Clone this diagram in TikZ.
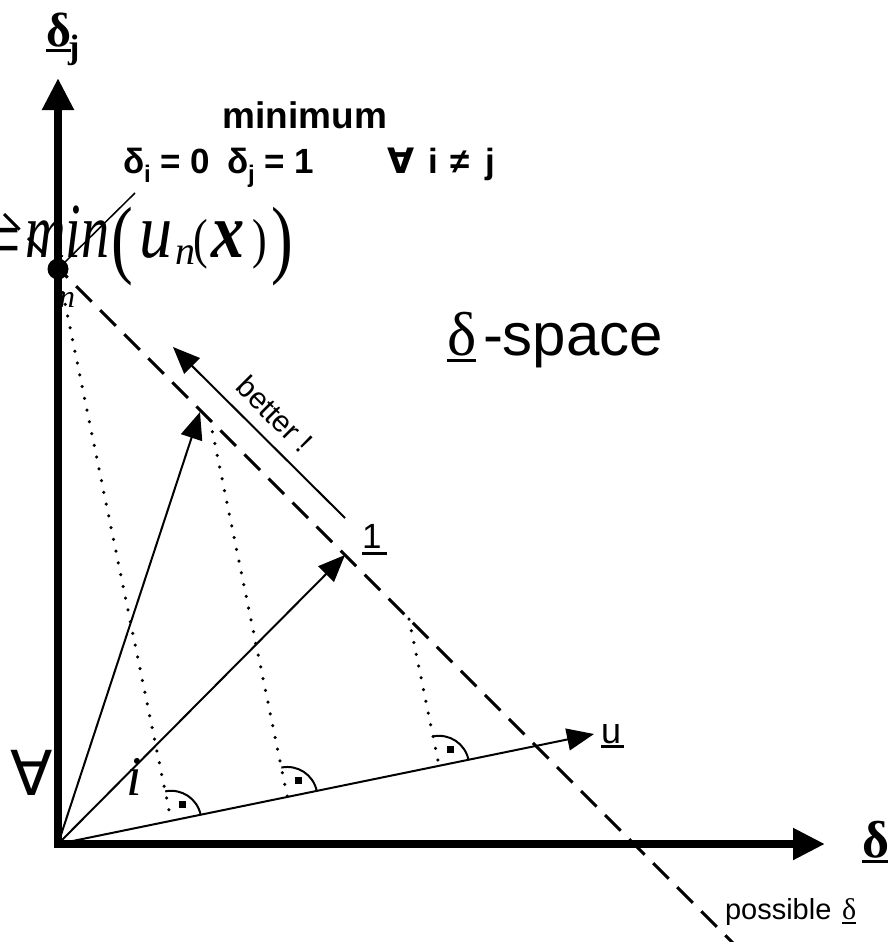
\documentclass[tikz,border=0pt]{standalone}
\usepackage{fontspec}
\setmainfont{Liberation Sans}
\newfontfamily\tnr{Liberation Serif}
\newfontfamily\dvs{DejaVu Sans}
\usetikzlibrary{arrows.meta,calc}
\newcommand\myRA[1]{%
  \draw[ra] ($(#1)+(29.4,-6)$) arc[start angle=11.6,end angle=101.6,radius=30pt];
  \fill ($(#1)+(7.5,-19.5)$) rectangle ++(7,7);}
\begin{document}
\begin{tikzpicture}[x=1pt,y=-1pt,
  axis/.style={line width=8pt,-{Triangle[length=32pt,width=30pt]}},
  vec/.style={line width=2pt,-{Triangle[length=27pt,width=22pt]}},
  dotline/.style={line width=3.5pt,line cap=round,dash pattern=on 0pt off 12pt},
  dashline/.style={line width=3pt,dash pattern=on 22pt off 12pt},
  lbl/.style={inner sep=0pt,outer sep=0pt},
  uline/.style={line width=3pt},
  ra/.style={line width=2pt}]
\useasboundingbox[fill=white] (0,0) rectangle (887,942);
% coordinates
\coordinate (O) at (58,844);
\coordinate (Ytip) at (58,78);
\coordinate (Ybot) at (58,848);
\coordinate (Xl) at (54,844);
\coordinate (Xtip) at (825,844);
\coordinate (L1) at (-20,190);
\coordinate (L2) at (760,970);
\coordinate (M) at (58,269);
\coordinate (A) at (200,412);
\coordinate (One) at (345,555);
\coordinate (U) at (594,734);
\coordinate (B1) at (345,518);
\coordinate (B2) at (173,347);
\coordinate (P2) at (210,420);
\coordinate (P3) at (409,619);
\coordinate (Lead) at (135,193);
\coordinate (F1) at ($(O)!(M)!(U)$);
\coordinate (F2) at ($(O)!(P2)!(U)$);
\coordinate (F3) at ($(O)!(P3)!(U)$);
% background texts partly hidden by the axis
\node[lbl,anchor=base west,font=\dvs\fontsize{62}{62}\selectfont] (fa) at (10,795) {∀};
\node[lbl,anchor=base west,font=\tnr\itshape\fontsize{56}{56}\selectfont] (ii) at (126,795) {i};
% dashed line of possible delta
\draw[dashline] (L1) -- (L2);
% dotted projections
\draw[dotline] (M) -- (F1);
\draw[dotline] (P2) -- (F2);
\draw[dotline] (P3) -- (F3);
\myRA{F1}
\myRA{F2}
\myRA{F3}
% vectors
\draw[vec] (O) -- (A);
\draw[vec] (O) -- (One);
\draw[vec] (O) -- (U);
\draw[vec] (B1) -- (B2);
% axes
\draw[axis] (Ybot) -- (Ytip);
\draw[axis] (Xl) -- (Xtip);
% minimum point
\node[circle,fill,inner sep=0pt,minimum size=21pt] (Mdot) at (M) {};
\draw[line width=1.5pt] (Mdot.center) -- (Lead);
% formula
\node[lbl,anchor=base east,font=\tnr\fontsize{90}{90}\selectfont] (eq) at (22,269) {=};
\node[lbl,anchor=base west,xscale=0.72,font=\tnr\itshape\fontsize{78}{78}\selectfont] (mn) at (25,257) {min};
\node[lbl,anchor=base west,xscale=0.75,font=\tnr\fontsize{87}{87}\selectfont] (lp) at (111,267) {(};
\node[lbl,anchor=base west,xscale=0.85,font=\tnr\itshape\fontsize{78}{78}\selectfont] (uu) at (139,257) {u};
\node[lbl,anchor=base west,font=\tnr\itshape\fontsize{40}{40}\selectfont] (un) at (175,264) {n};
\node[lbl,anchor=base west,xscale=0.8,font=\tnr\fontsize{55}{55}\selectfont] (lp2) at (193,257) {(};
\node[lbl,anchor=base west,xscale=0.85,font=\tnr\bfseries\itshape\fontsize{78}{78}\selectfont] (xx) at (211,257) {x};
\node[lbl,anchor=base west,xscale=0.8,font=\tnr\fontsize{55}{55}\selectfont] (rp2) at (252,257) {)};
\node[lbl,anchor=base west,xscale=0.75,font=\tnr\fontsize{87}{87}\selectfont] (rp) at (271,267) {)};
\node[lbl,anchor=base west,font=\tnr\itshape\fontsize{32}{32}\selectfont] (nn) at (59,307) {n};
% axis labels
\node[lbl,anchor=base west,font=\tnr\bfseries\fontsize{48}{48}\selectfont] (dj) at (46,47) {δ};
\node[lbl,anchor=base west,font=\tnr\bfseries\fontsize{34}{34}\selectfont] (djs) at (68,59) {j};
\draw[uline] ($(dj.base west)+(0,4)$) -- ($(dj.base east)+(0,4)$);
\node[lbl,anchor=base west,font=\tnr\bfseries\fontsize{52}{52}\selectfont] (di) at (862,857) {δ};
\draw[uline] ($(di.base west)+(0,4)$) -- ($(di.base east)+(0,4)$);
% minimum text
\node[lbl,anchor=base,font=\bfseries\fontsize{37}{37}\selectfont] (mini) at (305,128) {minimum};
\node[lbl,anchor=base west,font=\bfseries\fontsize{35}{35}\selectfont] (c1) at (123,173) {δ\raisebox{-9pt}{\fontsize{24}{24}\selectfont i} = 0};
\node[lbl,anchor=base west,font=\bfseries\fontsize{35}{35}\selectfont] (c2) at (227,173) {δ\raisebox{-9pt}{\fontsize{24}{24}\selectfont j} = 1};
\node[lbl,anchor=base west,font=\dvs\bfseries\fontsize{35}{35}\selectfont] (c3) at (387,173) {∀};
\node[lbl,anchor=base west,font=\bfseries\fontsize{35}{35}\selectfont] (c4) at (428,173) {i};
\node[lbl,anchor=base west,font=\bfseries\fontsize{35}{35}\selectfont] (c5) at (450,173) {≠};
\node[lbl,anchor=base west,font=\bfseries\fontsize{35}{35}\selectfont] (c6) at (485,173) {j};
% delta-space
\node[lbl,anchor=base west,font=\tnr\fontsize{62}{62}\selectfont] (ds) at (447,355) {δ};
\draw[uline] ($(ds.base west)+(0,5)$) -- ($(ds.base east)+(0,5)$);
\node[lbl,anchor=base west,font=\fontsize{60}{60}\selectfont] (sp) at (483,355) {-space};
% other labels
\node[lbl,anchor=base west,font=\fontsize{35}{35}\selectfont] (onel) at (362,548) {1};
\draw[uline] ($(onel.base west)+(0,5)$) -- ++(25,0);
\node[lbl,anchor=base west,font=\fontsize{36}{36}\selectfont] (ul) at (601,743) {u};
\draw[uline] ($(ul.base west)+(0,3)$) -- ++(23,0);
\node[lbl,anchor=base west,font=\fontsize{29}{29}\selectfont] (poss) at (725,919) {possible};
\node[lbl,anchor=base west,font=\tnr\fontsize{30}{30}\selectfont] (pd) at (842,919) {δ};
\draw[line width=2.5pt] ($(pd.base west)+(0,4)$) -- ($(pd.base east)+(0,4)$);
\node[lbl,rotate=-45,font=\fontsize{30}{30}\selectfont] (bt) at (275,414) {better !};
\end{tikzpicture}
\end{document}
